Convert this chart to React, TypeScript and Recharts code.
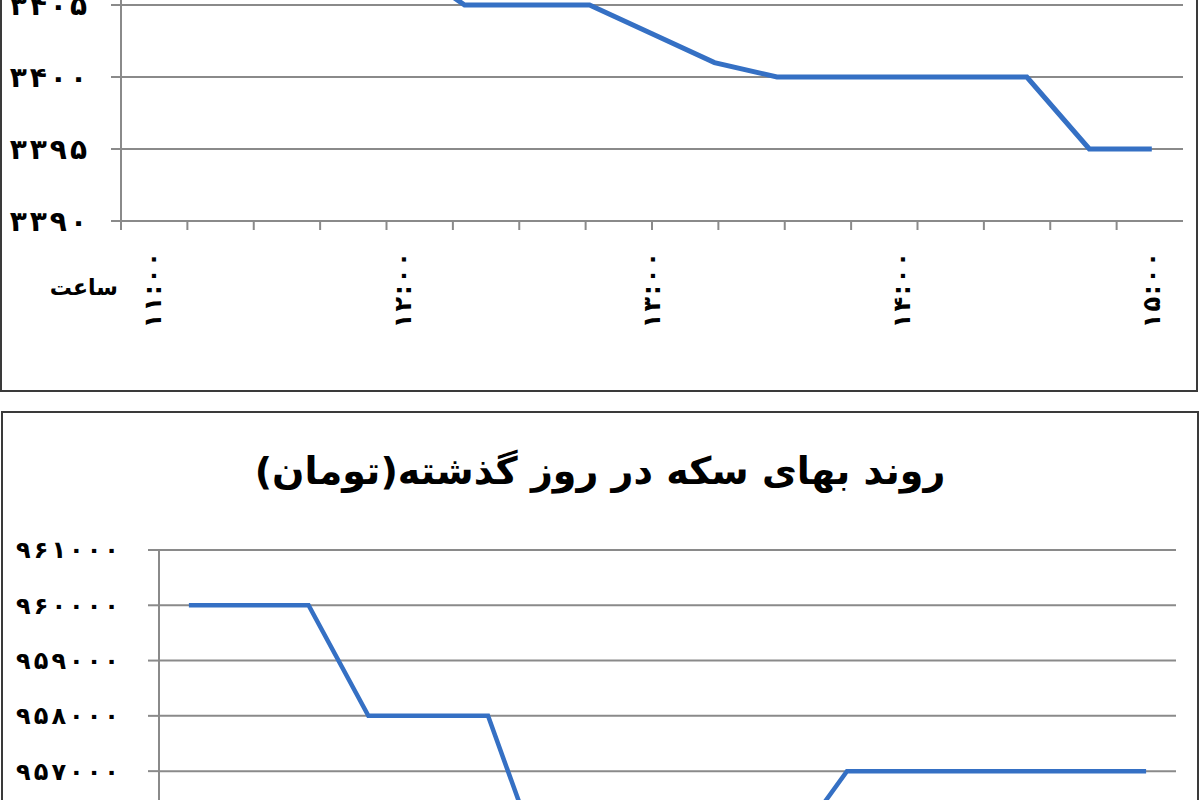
import { LineChart, Line, XAxis, YAxis, CartesianGrid, Label } from "recharts";

// categories (every quarter hour, labelled on the hour)
const hours = [
  "11:00", "11:15", "11:30", "11:45",
  "12:00", "12:15", "12:30", "12:45",
  "13:00", "13:15", "13:30", "13:45",
  "14:00", "14:15", "14:30", "14:45",
  "15:00",
];

// top chart (upper part cropped in the picture)
const topValues = [
  3410, 3410, 3410, 3410, 3408, 3405, 3405, 3405, 3403, 3401, 3400, 3400,
  3400, 3400, 3400, 3395, 3395,
];
const topTicks = [3390, 3395, 3400, 3405, 3410, 3415, 3420];

// coin price chart (lower part cropped in the picture)
const coinValues = [
  960000, 960000, 960000, 958000, 958000, 958000, 955000, 955000, 955000,
  955000, 955500, 957000, 957000, 957000, 957000, 957000, 957000,
];
const coinTicks = [954000, 955000, 956000, 957000, 958000, 959000, 960000, 961000];

const coinTitle = "روند بهای سکه در روز گذشته(تومان)";
const axisTitle = "ساعت";

const topData = hours.map((time, i) => ({ time, value: topValues[i] }));
const coinData = hours.map((time, i) => ({ time, value: coinValues[i] }));
const boundaries = [...hours.map((_, i) => i), hours.length];

const FA = "۰۱۲۳۴۵۶۷۸۹";
const toFa = (v: number | string) => String(v).replace(/\d/g, (d) => FA[Number(d)]);

const LINE = "#3570c4";
const GRID = "#8a8a8a";
const FONT = "'DejaVu Sans', sans-serif";

// chrome ignores letter-spacing on arabic digits, so space them with tspans
const spaced = (s: string, gap: number) =>
  Array.from(s).map((c, i) => (
    <tspan key={i} dx={i ? gap : 0}>
      {c}
    </tspan>
  ));

function HourTick(props: any) {
  const { x, y, payload, index, size } = props;
  if (index % 4 !== 0) return null;
  return (
    <g transform={`translate(${x},${y})`}>
      <text
        transform="rotate(-90)"
        textAnchor="end"
        dy="0.35em"
        fontFamily={FONT}
        fontWeight="bold"
        fontSize={size}
        fill="#000"
      >
        {spaced(toFa(payload.value), 2)}
      </text>
    </g>
  );
}

function ValueTick(props: any) {
  const { x, y, payload, size, spacing } = props;
  return (
    <text
      x={x}
      y={y}
      textAnchor="end"
      dy="0.35em"
      fontFamily={FONT}
      fontWeight="bold"
      fontSize={size}
      fill="#000"
    >
      {spaced(toFa(payload.value), spacing)}
    </text>
  );
}

function renderChart(
  data: { time: string; value: number }[],
  ticks: number[],
  opts: {
    width: number;
    height: number;
    margin: { top: number; right: number; bottom: number; left: number };
    yWidth: number;
    yTick: number;
    pad: number;
    tickMargin: number;
    fontSize: number;
    spacing: number;
    strokeWidth: number;
    withAxisTitle: boolean;
  }
) {
  return (
    <LineChart width={opts.width} height={opts.height} data={data} margin={opts.margin}>
      <CartesianGrid vertical={false} stroke={GRID} strokeWidth={2} />
      <XAxis
        xAxisId="a"
        type="number"
        domain={[0, hours.length]}
        ticks={boundaries}
        tick={() => <g />}
        tickSize={9}
        height={12}
        axisLine={{ stroke: GRID, strokeWidth: 2 }}
        tickLine={{ stroke: GRID, strokeWidth: 2 }}
      />
      <XAxis
        xAxisId="b"
        dataKey="time"
        interval={0}
        padding={{ left: opts.pad, right: opts.pad }}
        axisLine={false}
        tickLine={false}
        tickSize={0}
        tickMargin={19}
        height={136}
        tick={<HourTick size={24} />}
      >
        {opts.withAxisTitle && (
          <Label
            content={(p: any) => (
              <text
                x={p.viewBox.x - 3}
                y={p.viewBox.y + 56}
                textAnchor="end"
                dominantBaseline="middle"
                fontFamily={FONT}
                fontWeight="bold"
                fontSize={22}
                fill="#000"
              >
                {axisTitle}
              </text>
            )}
          />
        )}
      </XAxis>
      <YAxis
        domain={[ticks[0], ticks[ticks.length - 1]]}
        ticks={ticks}
        width={opts.yWidth}
        interval={0}
        tickSize={opts.yTick}
        tickMargin={opts.tickMargin}
        axisLine={{ stroke: GRID, strokeWidth: 2 }}
        tickLine={{ stroke: GRID, strokeWidth: 2 }}
        tick={<ValueTick size={opts.fontSize} spacing={opts.spacing} />}
      />
      <Line
        xAxisId="b"
        dataKey="value"
        type="linear"
        stroke={LINE}
        strokeWidth={opts.strokeWidth}
        dot={false}
        isAnimationActive={false}
      />
    </LineChart>
  );
}

export default function App() {
  return (
    <div
      style={{
        position: "absolute",
        top: 0,
        left: 0,
        width: 1200,
        height: 800,
        overflow: "hidden",
        background: "#fff",
      }}
    >
      {/* upper panel */}
      <div
        style={{
          position: "absolute",
          left: 0,
          top: -300,
          width: 1198,
          height: 692,
          border: "2px solid #3a3a3a",
          boxSizing: "border-box",
        }}
      />
      <div style={{ position: "absolute", left: 0, top: -231 }}>
        {renderChart(topData, topTicks, {
          width: 1200,
          height: 600,
          margin: { top: 20, right: 17, bottom: 0, left: 0 },
          yWidth: 121,
          yTick: 10,
          pad: 31.2,
          tickMargin: 24,
          fontSize: 28,
          spacing: 3,
          strokeWidth: 5,
          withAxisTitle: true,
        })}
      </div>

      {/* lower panel */}
      <div
        style={{
          position: "absolute",
          left: 1,
          top: 411,
          width: 1198,
          height: 600,
          border: "2px solid #3a3a3a",
          boxSizing: "border-box",
        }}
      />
      <div
        style={{
          position: "absolute",
          left: 0,
          top: 444,
          width: 1200,
          textAlign: "center",
          direction: "rtl",
          fontFamily: FONT,
          fontWeight: "bold",
          fontSize: 38,
          lineHeight: "54px",
          color: "#000",
        }}
      >
        {coinTitle}
      </div>
      <div style={{ position: "absolute", left: 0, top: 500 }}>
        {renderChart(coinData, coinTicks, {
          width: 1200,
          height: 585,
          margin: { top: 50, right: 24, bottom: 0, left: 0 },
          yWidth: 159,
          yTick: 11,
          pad: 29.9,
          tickMargin: 29,
          fontSize: 24,
          spacing: 3,
          strokeWidth: 4.5,
          withAxisTitle: false,
        })}
      </div>
    </div>
  );
}
